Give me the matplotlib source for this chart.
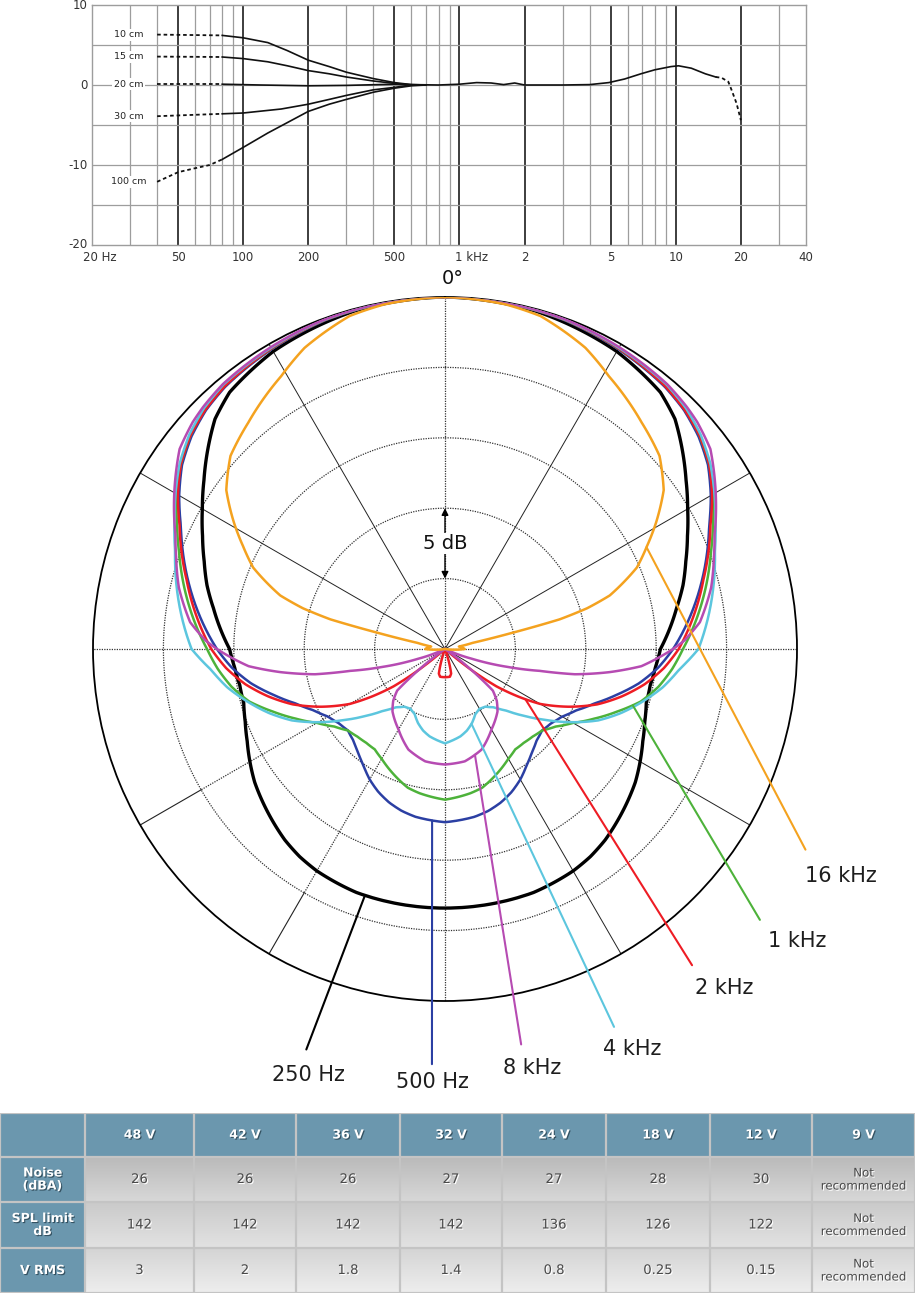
import numpy as np
import matplotlib.pyplot as plt
import matplotlib.patheffects as pe

# ---------------- frequency response (top) ----------------
fr_ticks = [20, 50, 100, 200, 500, 1000, 2000, 5000, 10000, 20000, 40000]
fr_tick_labels = ['20 Hz', '50', '100', '200', '500', '1 kHz', '2', '5', '10', '20', '40']
fr_light_lines = [30, 40, 60, 70, 80, 90, 300, 400, 600, 700, 800, 900,
                  3000, 4000, 6000, 7000, 8000, 9000, 30000]
fr_dark_lines = [50, 100, 200, 500, 1000, 2000, 5000, 10000, 20000]
db_ticks = [10, 0, -10, -20]
db_lines = [5, 0, -5, -10, -15]

dist_labels = ['10 cm', '15 cm', '20 cm', '30 cm', '100 cm']

cm10_dash_f = [40, 80]
cm10_dash_db = [6.3, 6.2]
cm10_f = [80, 100, 130, 160, 200, 250, 300, 400, 500, 600, 700]
cm10_db = [6.2, 5.9, 5.3, 4.3, 3.1, 2.3, 1.6, 0.8, 0.3, 0.05, 0.0]

cm15_dash_f = [40, 80]
cm15_dash_db = [3.55, 3.5]
cm15_f = [80, 100, 130, 160, 200, 250, 300, 400, 500, 600]
cm15_db = [3.5, 3.3, 2.9, 2.4, 1.8, 1.4, 1.0, 0.5, 0.2, 0.0]

cm20_dash_f = [40, 80]
cm20_dash_db = [0.1, 0.1]
cm20_f = [80, 120, 200, 300, 500, 600, 800, 1000, 1200, 1400, 1600, 1800, 2000, 3000,
          4000, 4900, 5800, 6900, 8000, 9500, 10300, 11800, 13700, 15300]
cm20_db = [0.1, 0.0, -0.1, -0.05, 0.1, 0.05, 0.0, 0.1, 0.3, 0.25, 0.05, 0.25, 0.0, 0.0,
           0.05, 0.3, 0.75, 1.4, 1.9, 2.3, 2.4, 2.1, 1.4, 1.0]
hf_dash_f = [15300, 16300, 17500, 18100, 19100, 20000]
hf_dash_db = [1.0, 0.9, 0.4, -0.6, -2.3, -4.4]

cm30_dash_f = [40, 80]
cm30_dash_db = [-3.9, -3.6]
cm30_f = [80, 100, 150, 200, 250, 300, 400, 500, 600]
cm30_db = [-3.6, -3.5, -3.0, -2.4, -1.8, -1.3, -0.6, -0.3, 0.0]

cm100_dash_f = [40, 50, 60, 70, 80]
cm100_dash_db = [-12.1, -10.9, -10.4, -10.0, -9.3]
cm100_f = [80, 100, 130, 160, 200, 250, 300, 400, 500, 600, 700]
cm100_db = [-9.3, -7.8, -6.0, -4.7, -3.3, -2.4, -1.8, -0.9, -0.4, -0.1, 0.0]

# ---------------- polar pattern (half circle, mirrored) ----------------
pol_250_ang = [0, 15, 30, 40, 45, 50, 55, 60, 65, 70, 75, 80, 85, 90, 95, 100, 105, 110,
               115, 120, 125, 130, 135, 140, 145, 150, 160, 170, 180]
pol_250_db = [0, -0.15, -0.6, -1.2, -1.9, -3.0, -4.1, -5.1, -6.0, -6.8, -7.5, -8.3, -9.0,
              -9.7, -10.0, -10.2, -10.2, -9.9, -9.5, -9.0, -8.5, -8.1, -7.7, -7.3, -7.0,
              -6.8, -6.6, -6.6, -6.6]

pol_ang = [0, 20, 30, 40, 45, 50, 55, 60, 65, 70, 75, 80, 85, 90, 95, 100, 105, 110, 115,
           120, 125, 130, 135, 140, 145, 150, 155, 160, 165, 170, 180]
pol_500_db = [0, -0.15, -0.4, -0.7, -1.0, -1.5, -2.2, -3.2, -4.3, -5.2, -6.1, -7.0, -7.9,
              -8.8, -9.8, -11.0, -12.4, -13.7, -14.7, -15.4, -15.8, -16.0, -15.8, -15.4,
              -14.9, -14.3, -13.8, -13.4, -13.1, -12.9, -12.7]
pol_1k_db = [0, -0.12, -0.35, -0.6, -0.9, -1.4, -2.1, -3.0, -4.0, -4.9, -5.7, -6.5, -7.3,
             -8.1, -8.8, -9.6, -10.6, -12.0, -13.3, -14.5, -15.4, -16.0, -16.2, -16.3,
             -16.3, -16.0, -15.6, -15.2, -14.8, -14.6, -14.3]
pol_4k_db = [0, -0.1, -0.3, -0.5, -0.8, -1.3, -2.0, -2.9, -3.8, -4.6, -5.2, -5.8, -6.4,
             -7.0, -8.3, -9.3, -10.5, -11.7, -13.0, -14.6, -16.2, -17.6, -18.8, -19.6,
             -20.0, -20.1, -19.9, -19.4, -19.0, -18.7, -18.3]

pol_2k_ang = [0, 20, 30, 40, 45, 50, 55, 60, 65, 70, 75, 80, 85, 90, 95, 100, 105, 110, 115,
              120, 123, 126, 128, 131, 160, 166, 170, 175, 180]
pol_2k_db = [0, -0.12, -0.35, -0.65, -0.95, -1.4, -2.1, -3.1, -4.2, -5.1, -6.0, -6.8, -7.6,
             -8.4, -9.4, -10.6, -12.0, -13.5, -15.3, -17.2, -18.8, -20.5, -22.2, -25, -25,
             -23.2, -23.0, -23.0, -23.0]

pol_8k_ang = [0, 20, 30, 40, 45, 48, 53, 57, 62, 67, 71, 77, 84, 88, 90, 95, 98, 101, 103,
              106, 110, 115, 125, 128, 131, 135, 140, 150, 160, 170, 180]
pol_8k_db = [0, -0.08, -0.25, -0.45, -0.7, -0.9, -1.4, -2.2, -3.2, -4.2, -4.8, -5.6, -6.8,
             -8.0, -8.8, -11.0, -13.2, -15.6, -18.1, -20.4, -23.0, -25, -25, -23.0, -20.5,
             -19.8, -19.2, -18.4, -17.4, -16.9, -16.8]

pol_16k_ang = [0, 10, 16, 25, 31, 41, 48, 54, 59, 63, 67, 72, 74, 75.5, 76.5, 77.5, 80, 85,
               90, 95, 100, 180]
pol_16k_db = [0, -0.15, -0.4, -1.4, -2.4, -3.7, -4.5, -5.8, -7.5, -8.9, -10.2, -12.7, -14.5,
              -16.6, -20.2, -23.0, -24.0, -23.8, -23.6, -24.5, -25, -25]

# label, colour, angle where the leader leaves the curve
pol_labels = ['250 Hz', '500 Hz', '1 kHz', '2 kHz', '4 kHz', '8 kHz', '16 kHz']
pol_colors = ['#000000', '#2b3fa3', '#4db23a', '#ee1c24', '#5cc6de', '#b64bb2', '#f4a21f']
leader_start = [198, 184.3, 106.7, 122, 160.5, 164.2, 63.2]
leader_end = [(199.1, 5.1), (181.8, 4.5), (130.7, 4.5), (142, 3.5), (155.9, 4.4),
              (169.1, 3.6), (119.1, 4.3)]
label_pos = [(197.8, 6.8), (181.6, 5.8), (129.6, 7.5), (140.5, 6.2), (154.9, 6.4),
             (168.3, 5.4), (119.8, 7.4)]

# ---------------- table ----------------
tab_cols = ['48 V', '42 V', '36 V', '32 V', '24 V', '18 V', '12 V', '9 V']
tab_rows = ['Noise\n(dBA)', 'SPL limit\ndB', 'V RMS']
noise_vals = ['26', '26', '26', '27', '27', '28', '30', 'Not\nrecommended']
spl_vals = ['142', '142', '142', '142', '136', '126', '122', 'Not\nrecommended']
vrms_vals = ['3', '2', '1.8', '1.4', '0.8', '0.25', '0.15', 'Not\nrecommended']

W, H = 923, 1295
fig = plt.figure(figsize=(W / 100, H / 100), dpi=100)
fig.patch.set_facecolor('white')

# ===== top: frequency response =====
ax = fig.add_axes([92 / W, 1 - 245 / H, 714 / W, 240 / H])
ax.set_xscale('log')
ax.set_xlim(20, 40000)
ax.set_ylim(-20, 10)
for f in fr_light_lines:
    ax.axvline(f, color='#9d9d9d', lw=0.9, zorder=1)
for f in fr_dark_lines:
    ax.axvline(f, color='#1c1c1c', lw=1.2, zorder=1)
for d in db_lines:
    ax.axhline(d, color='#9d9d9d', lw=0.9, zorder=1)
for s in ax.spines.values():
    s.set_color('#9d9d9d')
    s.set_linewidth(1.0)
ax.set_xticks([])
ax.set_yticks([])
ax.minorticks_off()

dash_sets = [(cm10_dash_f, cm10_dash_db), (cm15_dash_f, cm15_dash_db),
             (cm20_dash_f, cm20_dash_db), (cm30_dash_f, cm30_dash_db),
             (cm100_dash_f, cm100_dash_db), (hf_dash_f, hf_dash_db)]
solid_sets = [(cm10_f, cm10_db), (cm15_f, cm15_db), (cm20_f, cm20_db),
              (cm30_f, cm30_db), (cm100_f, cm100_db)]
for f, d in solid_sets:
    ax.plot(f, d, color='#111111', lw=1.2, zorder=3)
for f, d in dash_sets:
    ax.plot(f, d, color='#111111', lw=1.3, ls=(0, (2, 1.6)), zorder=3)

for lab, (f, d) in zip(dist_labels, dash_sets[:5]):
    ax.text(29.5, d[0], lab, fontsize=6.8, color='#222222', ha='center', va='center',
            bbox=dict(facecolor='white', edgecolor='none', pad=1.0), zorder=4)

for f, lab in zip(fr_ticks, fr_tick_labels):
    if ' ' in lab:
        num = lab.split(' ')[0]
        off = -3.1 * len(num)
        ax.annotate(lab, xy=(f, 0), xycoords=('data', 'axes fraction'),
                    xytext=(off, -9), textcoords='offset points', ha='left', va='center',
                    fontsize=8.5, color='#333333', annotation_clip=False)
    else:
        ax.annotate(lab, xy=(f, 0), xycoords=('data', 'axes fraction'),
                    xytext=(0, -9), textcoords='offset points', ha='center', va='center',
                    fontsize=8.5, color='#333333', annotation_clip=False)
for d in db_ticks:
    ax.annotate(str(d), xy=(0, d), xycoords=('axes fraction', 'data'),
                xytext=(-3, 0), textcoords='offset points', ha='right', va='center',
                fontsize=8.5, color='#333333', annotation_clip=False)

# ===== middle: polar pattern =====
R = 352
pax = fig.add_axes([(445 - R) / W, 1 - (649 + R) / H, 2 * R / W, 2 * R / H],
                   projection='polar')
pax.set_theta_zero_location('N')
pax.set_theta_direction(-1)
pax.set_ylim(-25, 0)
pax.set_xticks([])
pax.set_yticks([])
pax.grid(False)
pax.patch.set_alpha(0)
pax.spines['polar'].set_linewidth(1.3)
pax.spines['polar'].set_color('black')

ring_t = np.linspace(0, 2 * np.pi, 721)
dotted = (0, (1, 1))
for r in [-5, -10, -15, -20]:
    pax.plot(ring_t, np.full_like(ring_t, r), color='#333333', lw=0.9, ls=dotted, zorder=1)
for deg in [0, 90, 180, 270]:
    pax.plot([np.radians(deg)] * 2, [-25, 0], color='#333333', lw=0.9, ls=dotted, zorder=1)
for deg in [30, 60, 120, 150, 300, 330]:
    pax.plot([np.radians(deg)] * 2, [-25, 0], color='#222222', lw=0.7, zorder=1)
for deg in [210, 240]:
    pax.plot([np.radians(deg)] * 2, [-25, -5], color='#333333', lw=0.9, ls=dotted, zorder=1)
    pax.plot([np.radians(deg)] * 2, [-5, 0], color='#222222', lw=0.8, zorder=1)


def full_circle(ang, db):
    a = np.asarray(ang, float)
    d = np.asarray(db, float)
    th = np.concatenate([a, 360 - a[::-1][1:]])
    rr = np.concatenate([d, d[::-1][1:]])
    return np.radians(th), rr


pol_curves = [(pol_250_ang, pol_250_db), (pol_ang, pol_500_db), (pol_ang, pol_1k_db),
              (pol_2k_ang, pol_2k_db), (pol_ang, pol_4k_db), (pol_8k_ang, pol_8k_db),
              (pol_16k_ang, pol_16k_db)]
widths = [2.4, 1.8, 1.8, 1.8, 1.8, 1.8, 1.8]
for (ang, db), c, w in zip(pol_curves, pol_colors, widths):
    th, rr = full_circle(ang, db)
    ln, = pax.plot(th, rr, color=c, lw=w, zorder=3, solid_joinstyle='round')
    # let the polar transform follow the angle between points (arcs, not chords)
    ln.get_path()._interpolation_steps = 40

for (ang, db), c, lab, s, e, tp in zip(pol_curves, pol_colors, pol_labels,
                                         leader_start, leader_end, label_pos):
    half = s if s <= 180 else 360 - s
    r0 = np.interp(half, ang, db)
    pax.annotate('', xy=(np.radians(s), r0), xytext=(np.radians(e[0]), e[1]),
                 arrowprops=dict(arrowstyle='-', color=c, lw=1.5, shrinkA=0, shrinkB=0,
                                 clip_on=False),
                 annotation_clip=False, zorder=4)
    pax.text(np.radians(tp[0]), tp[1], lab, fontsize=15, color='#1e1e1e',
             ha='center', va='center', clip_on=False)

pax.annotate('', xy=(0, -15), xytext=(0, -20),
             arrowprops=dict(arrowstyle='<|-|>', color='black', lw=1.0, shrinkA=0,
                             shrinkB=0, mutation_scale=10), zorder=4)
pax.text(0, -17.5, '5 dB', fontsize=14, color='#111111', ha='center', va='center',
         bbox=dict(facecolor='white', edgecolor='none', pad=0.5), zorder=5)
pax.text(np.radians(1.2), 1.35, '0°', fontsize=14, color='#111111', ha='center',
         va='center', clip_on=False)

# ===== bottom: table =====
col_w = [85, 109, 102, 104, 102, 104, 104, 102, 103]
row_h = [44, 45, 46, 45]
tx = fig.add_axes([0, 2 / H, sum(col_w) / W, sum(row_h) / H])
tx.axis('off')
xe = np.concatenate([[0], np.cumsum(col_w)])
ye = np.concatenate([[0], np.cumsum(row_h)])
blue = '#6b97ae'
grad = [('#bababa', '#d8d8d8'), ('#cacaca', '#e2e2e2'), ('#d4d4d4', '#eeeeee')]

tx.add_patch(plt.Rectangle((0, 0), xe[-1], ye[1], color=blue, zorder=1))
tx.add_patch(plt.Rectangle((0, ye[1]), xe[1], ye[-1] - ye[1], color=blue, zorder=1))
for i, (c0, c1) in enumerate(grad):
    a0 = np.array(plt.matplotlib.colors.to_rgb(c0))
    a1 = np.array(plt.matplotlib.colors.to_rgb(c1))
    t = np.linspace(0, 1, 64)[:, None, None]
    img = a0 + (a1 - a0) * t
    img = np.repeat(img, 2, axis=1)
    tx.imshow(img, extent=(xe[1], xe[-1], ye[i + 2], ye[i + 1]), aspect='auto',
              interpolation='bilinear', zorder=1)
tx.set_xlim(0, xe[-1])
tx.set_ylim(ye[-1], 0)

for x in xe:
    tx.plot([x, x], [0, ye[-1]], color='#c4c4c4', lw=1.6, zorder=2, solid_capstyle='butt')
for y in ye:
    tx.plot([0, xe[-1]], [y, y], color='#c4c4c4', lw=1.6, zorder=2, solid_capstyle='butt')

head_fx = [pe.withSimplePatchShadow(offset=(0.8, -0.8), shadow_rgbFace='#2f4b5a', alpha=0.9)]
cell_fx = [pe.withSimplePatchShadow(offset=(0.8, -0.8), shadow_rgbFace='white', alpha=1.0)]
for j, lab in enumerate(tab_cols):
    tx.text((xe[j + 1] + xe[j + 2]) / 2, ye[1] / 2, lab, ha='center', va='center',
            fontsize=9, fontweight='bold', color='white', path_effects=head_fx, zorder=3)
for i, (lab, vals) in enumerate(zip(tab_rows, [noise_vals, spl_vals, vrms_vals])):
    yc = (ye[i + 1] + ye[i + 2]) / 2
    tx.text(xe[1] / 2, yc, lab, ha='center', va='center', fontsize=9, fontweight='bold',
            color='white', linespacing=1.0, path_effects=head_fx, zorder=3)
    for j, v in enumerate(vals):
        tx.text((xe[j + 1] + xe[j + 2]) / 2, yc, v, ha='center', va='center',
                fontsize=9.5 if '\n' not in v else 8.5, color='#4a4a4a', linespacing=1.0,
                path_effects=cell_fx, zorder=3)

fig.savefig('out.png', dpi=100)
